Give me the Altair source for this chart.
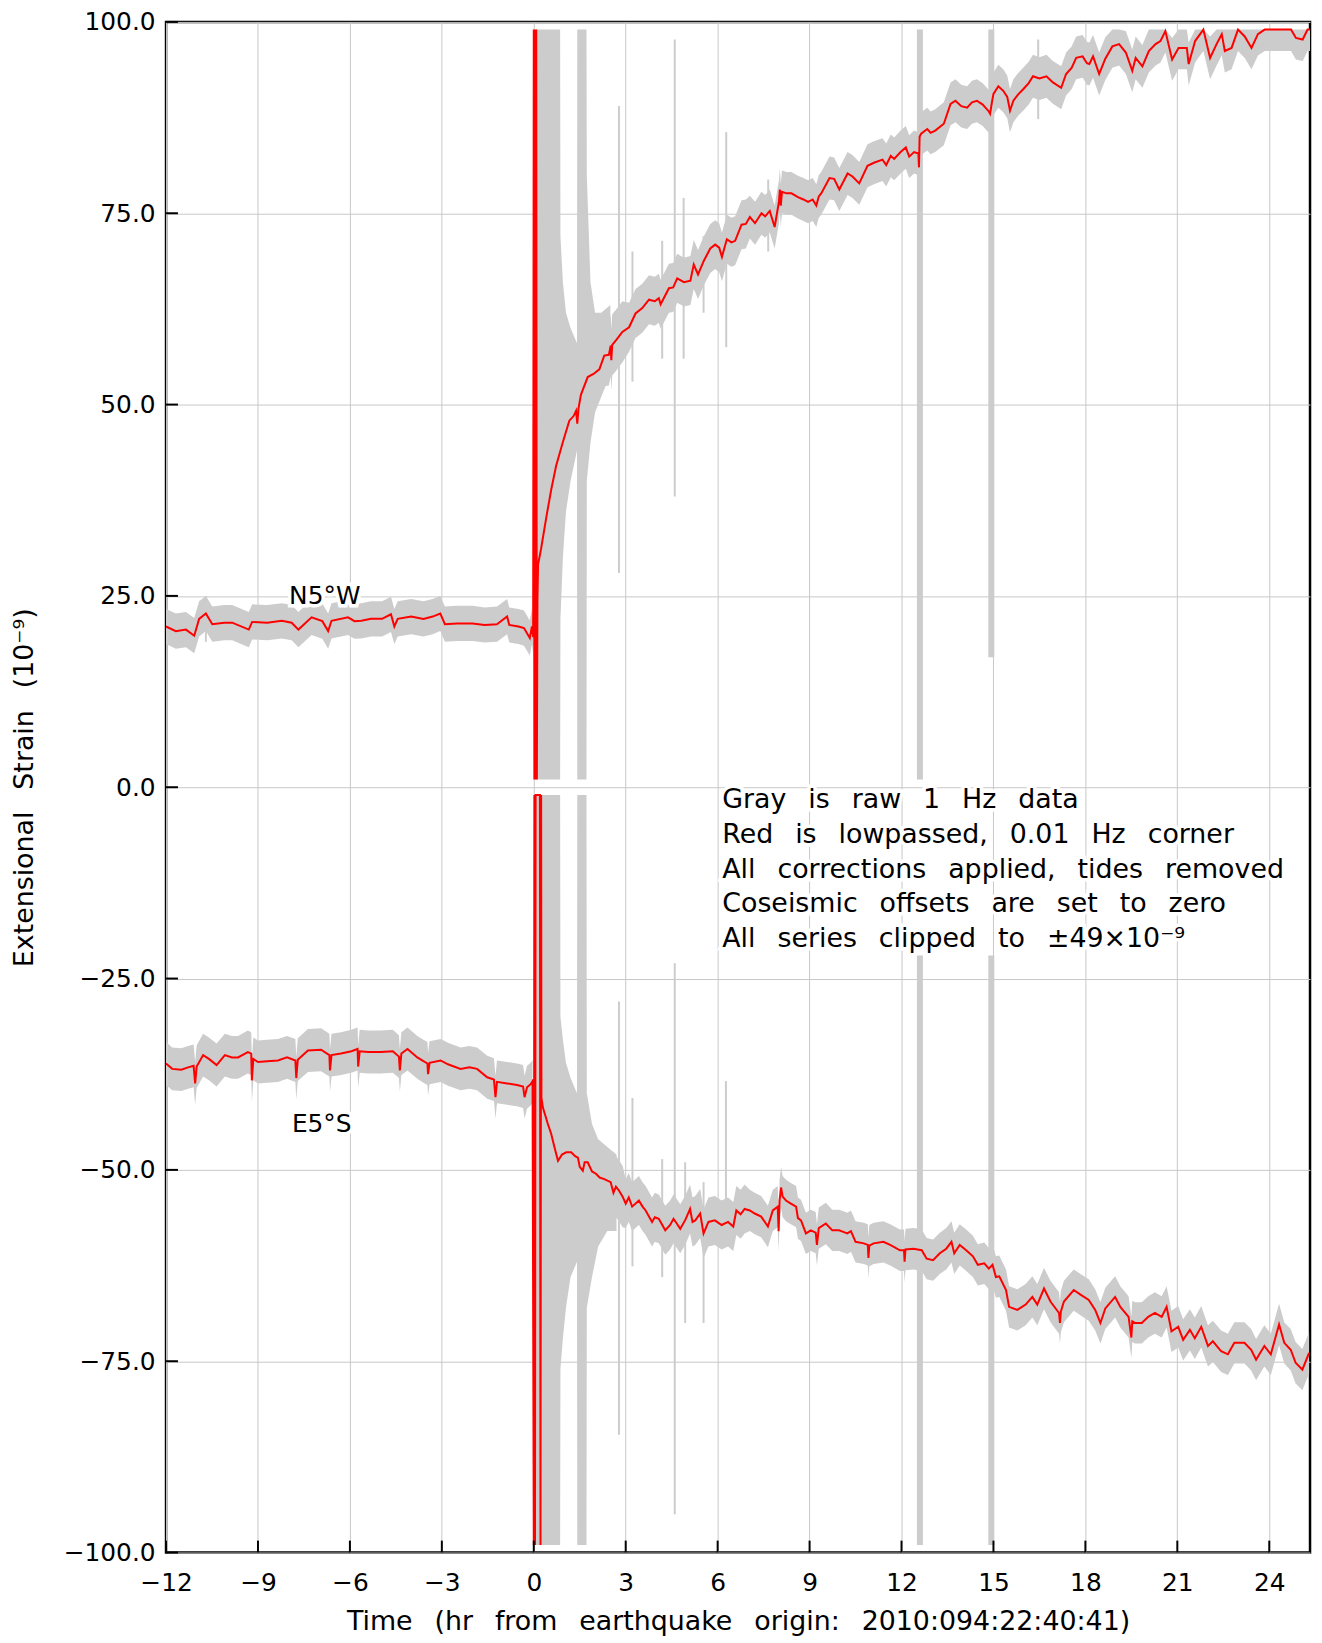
import altair as alt
import pandas as pd

# ---------------- data ----------------
# N5°W (upper trace, displayed values = strain + 50, clipped to 1..99)
n5w_pre_t = [-12.0, -11.68, -11.35, -11.08, -10.92, -10.7, -10.49, -10.1, -9.84, -9.3, -9.19, -8.7, -8.22, -7.9,
             -7.68, -7.25, -6.9, -6.71, -6.6, -6.06, -5.85, -5.63, -5.31, -4.95, -4.66, -4.55, -4.44, -4.0, -3.6,
             -3.3, -3.05, -2.9, -2.5, -2.0, -1.6, -1.2, -0.87, -0.8, -0.5, -0.32, -0.13, -0.06, -0.02]
n5w_pre_v = [21.0, 20.4, 20.6, 19.8, 22.0, 22.7, 21.3, 21.5, 21.5, 20.6, 21.6, 21.5, 21.75, 21.5,
             20.6, 22.2, 21.7, 20.4, 21.75, 22.2, 21.7, 21.75, 22.0, 22.0, 22.6, 21.0, 22.0, 22.3, 22.0,
             22.3, 22.7, 21.3, 21.4, 21.4, 21.2, 21.3, 22.3, 21.2, 21.0, 20.8, 19.5, 21.0, 19.6]
n5w_quake_t = [0.0, 0.02, 0.04, 0.06, 0.08, 0.10, 0.12]
n5w_quake_v = [99, 1, 99, 1, 99, 1, 24.5]
n5w_post_t = [0.14, 0.24, 0.41, 0.57, 0.73, 0.95, 1.16, 1.30, 1.38, 1.42, 1.46, 1.54, 1.76, 1.95, 2.14, 2.30,
              2.45, 2.51, 2.53, 2.56, 2.70, 2.89, 3.11, 3.32, 3.54, 3.76, 3.95, 4.08, 4.14, 4.41, 4.55, 4.68,
              4.90, 5.11, 5.22, 5.36, 5.55, 5.76, 5.92, 6.05, 6.14, 6.30, 6.45, 6.57, 6.78, 6.92, 7.05, 7.22,
              7.43, 7.55, 7.70, 7.86, 8.00, 8.03, 8.06, 8.10, 8.25, 8.41, 8.62, 8.80, 8.95, 9.10, 9.22, 9.30,
              9.38, 9.65, 9.80, 9.97, 10.24, 10.40, 10.62, 10.89, 11.10, 11.38, 11.50, 11.65, 11.76, 11.97,
              12.14, 12.25, 12.41, 12.55, 12.57, 12.59, 12.64, 12.84, 12.95, 13.10, 13.38, 13.60, 13.76, 13.95,
              14.14, 14.30, 14.46, 14.65, 14.85, 14.89, 14.95, 15.00, 15.16, 15.32, 15.45, 15.54, 15.65, 15.80,
              15.97, 16.15, 16.29, 16.50, 16.73, 16.94, 17.21, 17.37, 17.55, 17.70, 17.91, 18.05, 18.13, 18.25,
              18.45, 18.65, 18.88, 19.10, 19.32, 19.53, 19.64, 19.86, 20.07, 20.29, 20.45, 20.61, 20.83, 21.04,
              21.31, 21.37, 21.58, 21.85, 22.07, 22.28, 22.45, 22.55, 22.77, 22.98, 23.20, 23.42, 23.63, 23.85,
              24.28, 24.71, 24.87, 25.09, 25.25, 25.33]
n5w_post_v = [29.1, 31.2, 35.3, 38.9, 42.0, 45.1, 47.9, 48.5, 49.2, 47.5, 49.5, 51.3, 53.6, 54.0, 54.6, 56.4,
              56.5, 57.7, 55.8, 57.8, 58.5, 59.5, 60.1, 61.9, 62.6, 63.7, 63.5, 63.9, 63.1, 65.2, 65.3, 66.5,
              66.0, 66.2, 68.3, 67.0, 68.8, 70.4, 70.9, 70.5, 69.3, 71.6, 71.2, 71.4, 73.5, 73.6, 74.5, 73.7,
              75.0, 74.6, 75.3, 73.2, 76.5, 78.1, 76.0, 77.8, 77.6, 77.6, 77.1, 76.8, 76.5, 76.8, 76.0, 77.2,
              77.6, 79.6, 79.5, 78.1, 80.2, 79.8, 78.9, 81.2, 81.6, 82.0, 81.3, 82.5, 82.1, 83.0,
              83.6, 82.4, 83.0, 82.8, 81.0, 85.0, 85.4, 86.0, 85.5, 85.8, 86.7, 89.3, 89.7, 89.0,
              88.8, 89.5, 89.7, 89.2, 88.3, 88.0, 89.5, 90.6, 91.6, 91.0, 90.2, 88.4, 89.7, 90.5,
              91.2, 92.0, 92.9, 92.6, 92.9, 92.1, 91.4, 93.2, 94.0, 95.3, 95.5, 94.6, 94.5, 95.5,
              93.2, 95.2, 96.8, 97.1, 96.0, 93.6, 95.3, 94.2, 96.2, 97.1, 97.5, 98.8, 95.1, 96.6,
              96.6, 94.5, 97.5, 99.0, 95.3, 97.1, 98.4, 96.2, 96.6, 99.0, 98.1, 96.6, 98.4, 99.0,
              99.0, 99.0, 97.9, 97.7, 99.0, 99.0]

# E5°S (lower trace, displayed values = strain - 50, clipped to -99..-1)
e5s_pre_t = [-12.0, -11.8, -11.5, -11.28, -11.1, -11.05, -11.0, -10.79, -10.6, -10.35, -10.08, -9.85, -9.65,
             -9.33, -9.22, -9.2, -9.15, -9.0, -8.7, -8.35, -8.05, -7.78, -7.75, -7.7, -7.37, -6.94, -6.67,
             -6.65, -6.6, -6.29, -5.95, -5.75, -5.73, -5.68, -5.4, -4.99, -4.6, -4.4, -4.37, -4.32, -4.12,
             -3.8, -3.6, -3.47, -3.45, -3.4, -3.04, -2.8, -2.39, -2.1, -1.85, -1.52, -1.3, -1.25, -1.2, -0.87,
             -0.55, -0.35, -0.3, -0.22, -0.1, -0.04]
e5s_pre_v = [-36.1, -36.8, -36.9, -36.6, -36.4, -38.7, -36.5, -35.0, -35.5, -36.3, -35.0, -35.3, -35.3,
             -34.6, -34.8, -38.3, -35.5, -35.9, -35.8, -35.7, -35.3, -35.7, -38.0, -35.6, -34.4, -34.3, -35.0,
             -37.0, -35.0, -34.8, -34.5, -34.2, -36.5, -34.5, -34.6, -34.6, -34.5, -35.2, -37.0, -34.8, -34.2,
             -35.3, -35.8, -36.1, -37.5, -36.0, -35.7, -36.2, -36.8, -36.6, -36.8, -37.9, -38.2, -40.5, -38.5,
             -38.7, -38.9, -39.1, -40.5, -39.2, -38.8, -38.4]
e5s_quake_t = [0.0, 0.02, 0.04, 0.06, 0.20, 0.22, 0.24]
e5s_quake_v = [-99, -1, -99, -1, -1, -99, -1]
e5s_post_t = [0.25, 0.30, 0.46, 0.57, 0.68, 0.79, 0.92, 1.06, 1.22, 1.35, 1.44, 1.50, 1.60, 1.66, 1.76, 1.90,
              2.03, 2.15, 2.30, 2.51, 2.60, 2.68, 2.78, 2.90, 3.00, 3.10, 3.21, 3.43, 3.55, 3.65, 3.86, 3.95,
              4.08, 4.29, 4.45, 4.56, 4.65, 4.78, 4.95, 5.10, 5.18, 5.27, 5.43, 5.54, 5.70, 5.91, 6.13, 6.34,
              6.51, 6.61, 6.75, 6.88, 7.05, 7.21, 7.42, 7.64, 7.80, 7.96, 7.99, 8.02, 8.07, 8.12, 8.23, 8.39,
              8.56, 8.62, 8.72, 8.88, 9.04, 9.20, 9.24, 9.30, 9.53, 9.74, 9.96, 10.10, 10.23, 10.35, 10.50,
              10.77, 10.90, 10.92, 10.95, 11.09, 11.41, 11.63, 11.95, 12.08, 12.10, 12.13, 12.39, 12.66, 12.82,
              13.03, 13.25, 13.46, 13.63, 13.72, 13.90, 14.11, 14.33, 14.49, 14.70, 14.85, 14.97, 15.08, 15.19,
              15.41, 15.51, 15.78, 16.05, 16.27, 16.43, 16.65, 16.86, 17.14, 17.17, 17.20, 17.30, 17.62, 17.84,
              18.11, 18.32, 18.49, 18.65, 18.97, 19.14, 19.41, 19.50, 19.53, 19.62, 19.84, 20.05, 20.27, 20.49,
              20.65, 20.81, 21.03, 21.19, 21.41, 21.57, 21.78, 22.00, 22.16, 22.43, 22.65, 22.86, 23.19, 23.41,
              23.57, 23.84, 24.05, 24.32, 24.49, 24.70, 24.86, 25.08, 25.30]
e5s_post_v = [-40.6, -41.9, -44.0, -45.3, -47.1, -48.8, -48.0, -47.7, -47.7, -48.2, -48.4, -49.6, -50.1, -49.0,
              -49.0, -50.2, -50.5, -51.0, -51.2, -51.6, -53.0, -52.2, -52.7, -53.5, -54.4, -53.6, -54.8, -54.0,
              -54.8, -55.3, -56.8, -56.2, -56.4, -57.9, -57.2, -56.4, -56.9, -57.7, -56.5, -55.1, -56.8, -56.6,
              -55.7, -58.3, -56.8, -56.6, -57.2, -56.8, -57.4, -55.3, -55.8, -55.1, -55.3, -55.7, -56.1, -57.4,
              -55.3, -54.8, -58.0, -54.0, -52.3, -53.5, -54.0, -54.4, -54.8, -56.3, -56.6, -58.3, -57.9, -58.2,
              -59.8, -57.6, -57.0, -57.9, -57.9, -58.1, -58.3, -58.0, -59.4, -59.6, -59.8, -61.5, -59.9, -59.6,
              -59.4, -59.8, -60.5, -60.5, -62.0, -60.4, -60.3, -60.5, -61.6, -61.8, -60.9, -60.3, -59.4, -60.9,
              -59.8, -60.5, -61.3, -62.4, -62.2, -62.9, -62.4, -64.0, -63.9, -65.7, -67.9, -68.3, -67.6, -66.6,
              -67.6, -65.5, -67.2, -68.7, -70.0, -68.5, -67.2, -65.7, -66.3, -67.0, -68.3, -70.0, -68.1, -66.6,
              -67.9, -69.2, -71.9, -69.8, -70.0, -70.0, -69.2, -68.7, -69.2, -67.9, -71.1, -70.5, -72.2, -70.9,
              -72.0, -70.5, -73.0, -72.4, -73.7, -74.1, -72.6, -72.6, -73.5, -74.8, -73.0, -74.1, -70.2, -72.6,
              -73.5, -75.2, -76.1, -73.9]

# half width of the gray raw-data band around the red trace (read per time span)
band_edges = [-12, 0, 3, 7, 25.4]
band_hw_n5w = [2.3, 4.0, 3.2, 2.8]
band_hw_e5s = [2.8, 4.0, 3.2, 2.7]

# gray raw data right after the origin (envelope)
burst_n_t = [0.0, 0.86, 0.87, 0.95, 1.05, 1.20, 1.41, 1.42, 1.72, 1.73, 1.85, 2.00, 2.20, 2.50]
burst_n_lo = [1, 1, 22, 30, 36, 40, 44, 1, 1, 40, 45, 49, 51, 54]
burst_n_hi = [99, 99, 72, 66, 62, 60, 58, 99, 99, 80, 66, 62, 62, 63]
burst_e_t = [0.0, 0.86, 0.87, 0.95, 1.05, 1.20, 1.41, 1.42, 1.72, 1.73, 1.90, 2.10, 2.40, 2.70]
burst_e_lo = [-99, -99, -76, -72, -68, -64, -62, -99, -99, -68, -64, -60, -58, -58]
burst_e_hi = [-1, -1, -30, -33, -36, -38, -40, -1, -1, -40, -44, -46, -47, -48]

# isolated raw-data spikes (time, low, high)
spike_t = [2.78, 3.22, 4.19, 4.60, 4.89, 5.54, 6.28, 7.65, 16.46, -10.7,
           2.78, 3.22, 4.19, 4.60, 4.94, 5.54, 6.27]
spike_lo = [28, 53, 56, 38, 56, 62, 57.5, 70, 87.3, 19,
            -84.6, -62.6, -64, -95, -70, -70, -58.3]
spike_hi = [89, 70, 71.4, 97.7, 77, 72, 85.6, 79.4, 97.7, 25,
            -28, -40.6, -48.6, -23, -49, -51.6, -38.4]
wide_spike_t = [12.6, 14.93, 12.6, 14.93]
wide_spike_lo = [1, 17, -99, -99]
wide_spike_hi = [99, 99, -22, -22]

x_ticks = [-12, -9, -6, -3, 0, 3, 6, 9, 12, 15, 18, 21, 24]
y_ticks = [-100, -75, -50, -25, 0, 25, 50, 75, 100]

SP = "\u2002\u00a0"
note_lines = ["Gray is raw 1 Hz data",
              "Red is lowpassed, 0.01 Hz corner",
              "All corrections applied, tides removed",
              "Coseismic offsets are set to zero",
              "All series clipped to \u00b149\u00d710\u207b\u2079"]
note_t = [6.15] * 5
note_v = [-2.7, -7.25, -11.8, -16.35, -20.9]
label_text = ["N5\u00b0W", "E5\u00b0S"]
label_t = [-6.82, -6.92]
label_v = [23.9, -45.0]

# ---------------- tables ----------------
def band_rows(ts, vs, hws, seg, name):
    rows = []
    for t, v in zip(ts, vs):
        hw = hws[-1]
        for i in range(len(hws)):
            if band_edges[i] <= t < band_edges[i + 1]:
                hw = hws[i]
        rows.append({"t": t, "lo": max(v - hw, -99 if name == "e" else 1),
                     "hi": min(v + hw, -1 if name == "e" else 99), "seg": f"{name}{seg}"})
    return rows

band = pd.DataFrame(
    band_rows(n5w_pre_t, n5w_pre_v, band_hw_n5w, 0, "n") + band_rows(n5w_post_t, n5w_post_v, band_hw_n5w, 1, "n") +
    band_rows(e5s_pre_t, e5s_pre_v, band_hw_e5s, 0, "e") + band_rows(e5s_post_t, e5s_post_v, band_hw_e5s, 1, "e"))

red = pd.DataFrame(
    [{"t": t, "v": v, "s": "N5W", "o": i} for i, (t, v) in
     enumerate(zip(n5w_pre_t + n5w_quake_t + n5w_post_t, n5w_pre_v + n5w_quake_v + n5w_post_v))] +
    [{"t": t, "v": v, "s": "E5S", "o": i} for i, (t, v) in
     enumerate(zip(e5s_pre_t + e5s_quake_t + e5s_post_t, e5s_pre_v + e5s_quake_v + e5s_post_v))])

burst = pd.DataFrame(
    [{"t": t, "lo": lo, "hi": hi, "s": "N"} for t, lo, hi in zip(burst_n_t, burst_n_lo, burst_n_hi)] +
    [{"t": t, "lo": lo, "hi": hi, "s": "E"} for t, lo, hi in zip(burst_e_t, burst_e_lo, burst_e_hi)])
spikes = pd.DataFrame({"t": spike_t, "lo": spike_lo, "hi": spike_hi})
wide_spikes = pd.DataFrame({"t": wide_spike_t, "lo": wide_spike_lo, "hi": wide_spike_hi})
notes = pd.DataFrame({"t": note_t, "v": note_v, "txt": [SP.join(s.split(" ")) for s in note_lines]})
labels = pd.DataFrame({"t": label_t, "v": label_v, "txt": label_text})
xt = pd.DataFrame({"t": x_ticks})
yt = pd.DataFrame({"v": y_ticks})

# ---------------- chart ----------------
FONT = "DejaVu Sans"
W, H = 1151, 1540
GRAY = "#cccccc"
xs = alt.Scale(domain=[-12, 25.33], nice=False, zero=False)
ys = alt.Scale(domain=[-100, 100], nice=False, zero=False)
xaxis = alt.Axis(values=x_ticks, grid=True, gridColor="#c8c8c8", gridWidth=1, domain=False, ticks=False,
                 labelFontSize=25, labelFont=FONT, labelColor="black", labelPadding=18, format="d",
                 labelFlush=False,
                 title=SP.join("Time (hr from earthquake origin: 2010:094:22:40:41)".split(" ")),
                 titleFontSize=27, titleFont=FONT, titleFontWeight="normal", titleColor="black", titlePadding=13)
yaxis = alt.Axis(values=y_ticks, grid=True, gridColor="#c8c8c8", gridWidth=1, domain=False, ticks=False,
                 labelFontSize=25, labelFont=FONT, labelColor="black", labelPadding=11, format=".1f",
                 labelFlush=False,
                 title=SP.join("Extensional Strain (10\u207b\u2079)".split(" ")),
                 titleFontSize=27, titleFont=FONT, titleFontWeight="normal", titleColor="black", titlePadding=25)
X = lambda f="t": alt.X(f"{f}:Q", scale=xs, axis=xaxis)
Y = lambda f: alt.Y(f"{f}:Q", scale=ys, axis=yaxis)

band_layer = alt.Chart(band).mark_area(color=GRAY, opacity=1).encode(
    x=X(), y=Y("lo"), y2="hi:Q", detail="seg:N")
burst_layer = alt.Chart(burst).mark_area(color=GRAY, opacity=1).encode(
    x=X(), y=Y("lo"), y2="hi:Q", detail="s:N")
spike_layer = alt.Chart(spikes).mark_rule(color=GRAY, strokeWidth=2).encode(x=X(), y=Y("lo"), y2="hi:Q")
wide_layer = alt.Chart(wide_spikes).mark_rule(color=GRAY, strokeWidth=6).encode(x=X(), y=Y("lo"), y2="hi:Q")
red_layer = alt.Chart(red).mark_line(color="#ff0000", strokeWidth=2).encode(
    x=X(), y=Y("v"), detail="s:N", order="o:Q")
ytick_layer = alt.Chart(yt).mark_rule(color="black", strokeWidth=2).encode(
    y=Y("v"), x=alt.value(0), x2=alt.value(12))
xtick_layer = alt.Chart(xt).mark_rule(color="black", strokeWidth=2).encode(
    x=X(), y=alt.value(H), y2=alt.value(H - 12))
note_halo = alt.Chart(notes).mark_text(align="left", baseline="alphabetic", font=FONT, fontSize=27,
                                       stroke="white", strokeWidth=7, color="white").encode(
    x=X(), y=Y("v"), text="txt:N")
note_layer = alt.Chart(notes).mark_text(align="left", baseline="alphabetic", font=FONT, fontSize=27,
                                        color="black").encode(x=X(), y=Y("v"), text="txt:N")
label_halo = alt.Chart(labels).mark_text(align="center", baseline="alphabetic", font=FONT, fontSize=25,
                                         stroke="white", strokeWidth=7, color="white").encode(
    x=X(), y=Y("v"), text="txt:N")
label_layer = alt.Chart(labels).mark_text(align="center", baseline="alphabetic", font=FONT, fontSize=25,
                                          color="black").encode(x=X(), y=Y("v"), text="txt:N")

chart = alt.layer(band_layer, burst_layer, spike_layer, wide_layer, red_layer, ytick_layer, xtick_layer,
                  note_halo, note_layer, label_halo, label_layer).properties(
    width=W, height=H,
    autosize=alt.AutoSizeParams(type="none"),
    padding={"left": 159, "top": 9, "right": 4, "bottom": 86},
    background="white",
).configure_view(stroke="black", strokeWidth=2.5)

chart.save("out.html", embed_options={"renderer": "svg", "actions": False})
